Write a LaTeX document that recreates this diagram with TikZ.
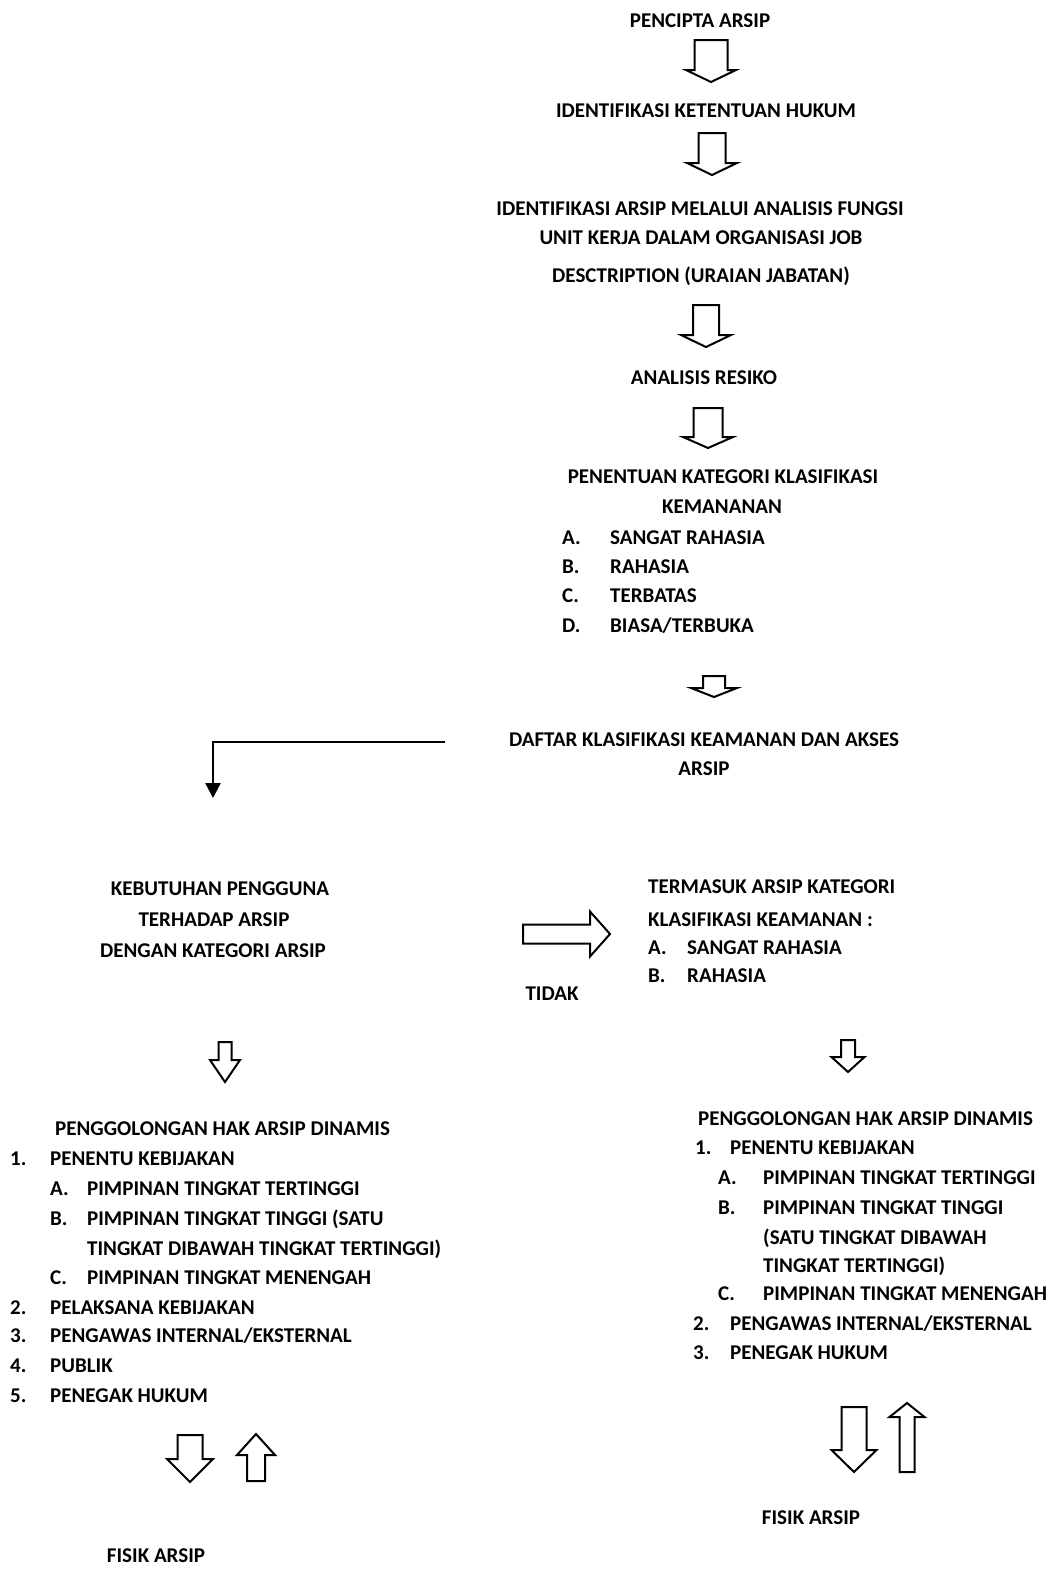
\documentclass[tikz,border=0pt]{standalone}
\usepackage{fontspec}
\setmainfont{Carlito}
\usepackage{tikz}
\usetikzlibrary{arrows.meta}

\tikzset{
  txt/.style={font=\bfseries\fontsize{21}{25}\selectfont, inner sep=0pt, anchor=base},
  txtl/.style={txt, anchor=base west},
  blk/.style={draw, line width=2pt, fill=white, line join=miter},
  pics/downblk/.style n args={4}{code={%
    \draw[blk] (-#1/2,0) -- (#1/2,0) -- (#1/2,#3) -- (#2/2,#3) -- (0,#3+#4)
      -- (-#2/2,#3) -- (-#1/2,#3) -- cycle;}},
}

\begin{document}
\begin{tikzpicture}[x=1pt,y=-1pt]
        \fill[white] (0,0) rectangle (1054,1572);
        \useasboundingbox (0,0) rectangle (1054,1572);
        % alur tengah
        \node[txt] (pencipta) at (700,27) {PENCIPTA ARSIP};
        \pic at (711,40) {downblk={33}{50}{30}{12}};
        \node[txt] (ketentuan) at (706,117) {IDENTIFIKASI KETENTUAN HUKUM};
        \pic at (712,133) {downblk={27}{50}{30}{12}};
        \node[txt] (ident1) at (700,215) {IDENTIFIKASI ARSIP MELALUI ANALISIS FUNGSI};
        \node[txt] (ident2) at (701,244) {UNIT KERJA DALAM ORGANISASI JOB};
        \node[txt] (ident3) at (701,282) {DESCTRIPTION (URAIAN JABATAN)};
        \pic at (706,305) {downblk={26}{50}{30}{12}};
        \node[txt] (resiko) at (704,384) {ANALISIS RESIKO};
        \pic at (708,408) {downblk={29}{50}{29}{11}};
        \node[txt] (penentuan1) at (723,483) {PENENTUAN KATEGORI KLASIFIKASI};
        \node[txt] (penentuan2) at (722,513) {KEMANANAN};
        \foreach \lbl/\txt [count=\i] in {A./SANGAT RAHASIA, B./RAHASIA, C./TERBATAS, D./BIASA\slash TERBUKA}{
          \node[txtl] (katl\i) at (562,515+29.3*\i) {\lbl};
          \node[txtl] (katt\i) at (610,515+29.3*\i) {\txt};
        }
        \pic at (714,676) {downblk={22}{46}{12}{9}};
        \node[txt] (daftar1) at (704,746) {DAFTAR KLASIFIKASI KEAMANAN DAN AKSES};
        \node[txt] (daftar2) at (704,775) {ARSIP};
        \coordinate (belok) at (445,742);
        \coordinate (turun) at (213,798);
        \draw[line width=2.5pt, -{Triangle[width=15pt,length=15pt]}] (belok) -| (turun);
        % cabang kiri dan kanan
        \node[txt] (butuh1) at (220,895) {KEBUTUHAN PENGGUNA};
        \node[txt] (butuh2) at (214,926) {TERHADAP ARSIP};
        \node[txt] (butuh3) at (213,957) {DENGAN KATEGORI ARSIP};
        \pic[rotate=90] at (523,934) {downblk={19}{45}{67}{20}};
        \node[txt] (tidak) at (552,1000) {TIDAK};
        \node[txtl] (masuk1) at (648,893) {TERMASUK ARSIP KATEGORI};
        \node[txtl] (masuk2) at (648,926) {KLASIFIKASI KEAMANAN :};
        \foreach \lbl/\txt [count=\i] in {A./SANGAT RAHASIA, B./RAHASIA}{
          \node[txtl] (masukl\i) at (648,926+28*\i) {\lbl};
          \node[txtl] (masukt\i) at (687,926+28*\i) {\txt};
        }
        \pic at (225,1042) {downblk={13}{30}{18}{22}};
        \pic at (848,1040) {downblk={14}{33}{17}{15}};
        % penggolongan kiri
        \node[txtl] (golkiri) at (55,1135) {PENGGOLONGAN HAK ARSIP DINAMIS};
        \foreach \x/\y/\txt [count=\i] in {10/1165/1., 50/1165/PENENTU KEBIJAKAN,
            50/1195/A., 87/1195/PIMPINAN TINGKAT TERTINGGI,
            50/1225/B., 87/1225/PIMPINAN TINGKAT TINGGI (SATU,
            87/1255/TINGKAT DIBAWAH TINGKAT TERTINGGI),
            50/1284/C., 87/1284/PIMPINAN TINGKAT MENENGAH,
            10/1314/2., 50/1314/PELAKSANA KEBIJAKAN,
            10/1342/3., 50/1342/PENGAWAS INTERNAL\slash EKSTERNAL,
            10/1372/4., 50/1372/PUBLIK,
            10/1402/5., 50/1402/PENEGAK HUKUM}
          \node[txtl] (gk\i) at (\x,\y) {\txt};
        % penggolongan kanan
        \node[txtl] (golkanan) at (698,1125) {PENGGOLONGAN HAK ARSIP DINAMIS};
        \foreach \x/\y/\txt [count=\i] in {695/1154/1., 730/1154/PENENTU KEBIJAKAN,
            718/1184/A., 763/1184/PIMPINAN TINGKAT TERTINGGI,
            718/1214/B., 763/1214/PIMPINAN TINGKAT TINGGI,
            763/1244/(SATU TINGKAT DIBAWAH,
            763/1272/TINGKAT TERTINGGI),
            718/1300/C., 763/1300/PIMPINAN TINGKAT MENENGAH,
            693/1330/2., 730/1330/PENGAWAS INTERNAL\slash EKSTERNAL,
            693/1359/3., 730/1359/PENEGAK HUKUM}
          \node[txtl] (gn\i) at (\x,\y) {\txt};
        % fisik arsip
        \pic at (190,1435) {downblk={25}{46}{24}{23}};
        \pic[rotate=180] at (256,1481) {downblk={18}{38}{26}{21}};
        \node[txt] (fisikkiri) at (156,1562) {FISIK ARSIP};
        \pic at (854,1407) {downblk={25}{45}{43}{22}};
        \pic[rotate=180] at (907,1472) {downblk={15}{35}{55}{14}};
        \node[txt] (fisikkanan) at (811,1524) {FISIK ARSIP};
    \end{tikzpicture}
\end{document}
